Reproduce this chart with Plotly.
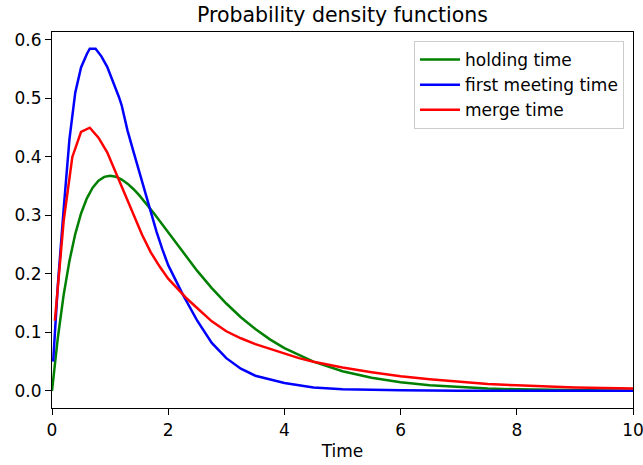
import plotly.graph_objects as go

# holding time
t_hold = [0, 0.1, 0.2, 0.3, 0.4, 0.5, 0.6, 0.7, 0.8, 0.9, 1.0, 1.1, 1.2, 1.3, 1.4, 1.5,
          1.75, 2.0, 2.25, 2.5, 2.75, 3.0, 3.25, 3.5, 3.75, 4.0, 4.5, 5.0, 5.5, 6.0,
          6.5, 7.0, 7.5, 8.0, 8.5, 9.0, 9.5, 10.0]
v_hold = [0, 0.0905, 0.1637, 0.2222, 0.2681, 0.3033, 0.3293, 0.3476, 0.3595, 0.3659,
          0.3679, 0.3662, 0.3614, 0.3543, 0.3452, 0.3347, 0.3041, 0.2707, 0.2371,
          0.2052, 0.1758, 0.1494, 0.1260, 0.1057, 0.0882, 0.0733, 0.0500, 0.0337,
          0.0225, 0.0149, 0.0098, 0.0064, 0.0041, 0.0027, 0.0017, 0.0011, 0.0007, 0.00045]

# first meeting time
t_meet = [0.02, 0.1, 0.2, 0.3, 0.4, 0.5, 0.6, 0.65, 0.75, 0.85, 0.95, 1.05, 1.15, 1.2,
          1.3, 1.4, 1.5, 1.6, 1.7, 1.8, 1.9, 2.0, 2.25, 2.5, 2.75, 3.0, 3.25, 3.5,
          4.0, 4.5, 5.0, 6.0, 7.0, 8.0, 9.0, 10.0]
v_meet = [0.05, 0.18, 0.31, 0.43, 0.51, 0.553, 0.576, 0.585, 0.585, 0.572, 0.554,
          0.53, 0.503, 0.488, 0.445, 0.41, 0.375, 0.34, 0.305, 0.272, 0.242, 0.215,
          0.165, 0.12, 0.082, 0.056, 0.038, 0.026, 0.0135, 0.006, 0.003, 0.001,
          0.0004, 0.0002, 0.0002, 0.0002]

# merge time
t_merge = [0.05, 0.2, 0.35, 0.5, 0.65, 0.8, 0.95, 1.1, 1.25, 1.4, 1.55, 1.7, 1.85,
           2.0, 2.15, 2.3, 2.45, 2.6, 2.75, 3.0, 3.25, 3.5, 3.75, 4.0, 4.25, 4.5,
           5.0, 5.5, 6.0, 6.5, 7.0, 7.5, 8.0, 8.5, 9.0, 9.5, 10.0]
v_merge = [0.12, 0.29, 0.40, 0.443, 0.45, 0.433, 0.408, 0.372, 0.337, 0.302, 0.267,
           0.237, 0.213, 0.192, 0.176, 0.160, 0.146, 0.133, 0.119, 0.102, 0.090,
           0.080, 0.072, 0.064, 0.056, 0.050, 0.040, 0.032, 0.025, 0.020, 0.0155,
           0.012, 0.0095, 0.0075, 0.006, 0.005, 0.004]

x_ticks = [0, 2, 4, 6, 8, 10]
y_ticks = [0.0, 0.1, 0.2, 0.3, 0.4, 0.5, 0.6]

FONT = "DejaVu Sans"

fig = go.Figure()
fig.add_trace(go.Scatter(x=t_hold, y=v_hold, mode="lines", name="holding time",
                         line=dict(color="#008000", width=2.5)))
fig.add_trace(go.Scatter(x=t_meet, y=v_meet, mode="lines", name="first meeting time",
                         line=dict(color="#0000ff", width=2.5)))
fig.add_trace(go.Scatter(x=t_merge, y=v_merge, mode="lines", name="merge time",
                         line=dict(color="#ff0000", width=2.5)))

axis_common = dict(showline=True, linecolor="black", linewidth=1.2, mirror=True,
                   ticks="outside", ticklen=6, tickcolor="black", tickwidth=1.2,
                   showgrid=False, zeroline=False, automargin=False,
                   ticklabeloverflow="allow",
                   tickfont=dict(family=FONT, size=17, color="black"))

fig.update_layout(
    width=643, height=465,
    margin=dict(l=52, r=10, t=32, b=57, autoexpand=False),
    paper_bgcolor="white", plot_bgcolor="white",
    font=dict(family=FONT, size=17, color="black"),
    title=dict(text="Probability density functions", x=(52 + 633) / 2 / 643, xanchor="center",
               y=1 - 15 / 465, yanchor="middle", automargin=False,
               font=dict(family=FONT, size=20.5, color="black")),
    xaxis=dict(range=[0, 10], tickvals=x_ticks,
               title=dict(text="Time", font=dict(family=FONT, size=17), standoff=6),
               **axis_common),
    yaxis=dict(range=[-0.0292, 0.6136], tickvals=y_ticks, tickformat=".1f", **axis_common),
    legend=dict(x=0.9845, y=0.976, xanchor="right", yanchor="top",
                bgcolor="rgba(255,255,255,0.8)", bordercolor="#cccccc", borderwidth=1,
                font=dict(family=FONT, size=17, color="black"),
                itemwidth=40),
    showlegend=True,
)

fig.write_html("out.html", config={"displayModeBar": False},
               post_script="document.body.style.margin='0px';document.body.style.padding='0px';")
